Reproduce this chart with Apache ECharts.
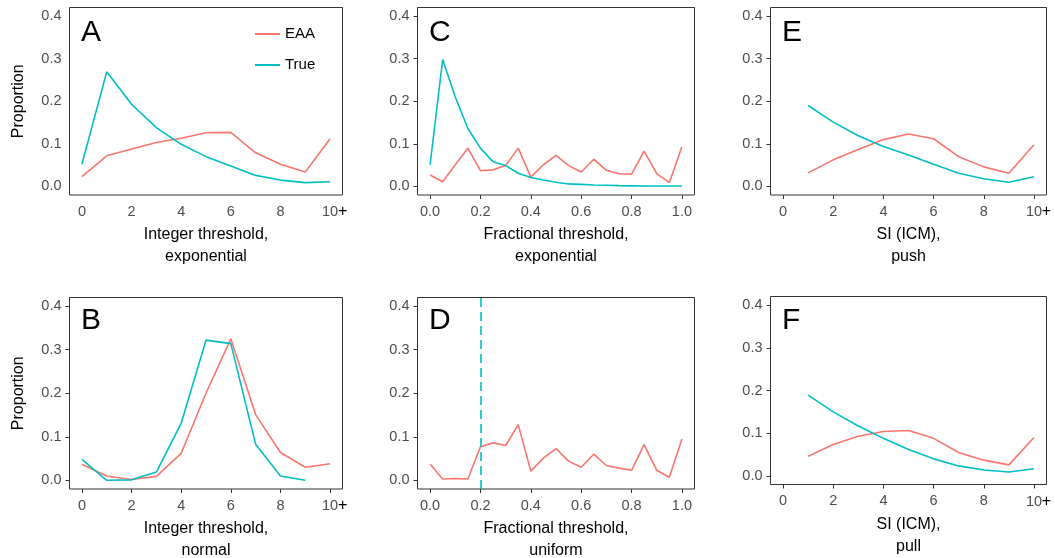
<!DOCTYPE html>
<html>
<head>
<meta charset="utf-8">
<script src="https://cdn.jsdelivr.net/npm/echarts@6/dist/echarts.min.js"></script>
<style>
html,body{margin:0;padding:0;background:#fff;}
#chart{width:1055px;height:558px;}
</style>
</head>
<body>
<div id="chart"></div>
<script>
// ---- data ----
const intX = [0, 1, 2, 3, 4, 5, 6, 7, 8, 9, 10];
const fracX = [0.00, 0.05, 0.10, 0.15, 0.20, 0.25, 0.30, 0.35, 0.40, 0.45, 0.50, 0.55, 0.60, 0.65, 0.70, 0.75, 0.80, 0.85, 0.90, 0.95, 1.00];
const siX = [1, 2, 3, 4, 5, 6, 7, 8, 9, 10];

const A_eaa  = [0.023, 0.072, 0.088, 0.103, 0.113, 0.126, 0.127, 0.079, 0.052, 0.034, 0.112];
const A_true = [0.052, 0.269, 0.193, 0.138, 0.099, 0.070, 0.048, 0.026, 0.015, 0.009, 0.011];

const B_eaa  = [0.037, 0.010, 0.002, 0.009, 0.062, 0.200, 0.325, 0.151, 0.064, 0.030, 0.038];
const B_true = [0.048, 0.000, 0.001, 0.019, 0.131, 0.322, 0.314, 0.083, 0.010, 0.000];

const C_eaa  = [0.027, 0.011, 0.051, 0.090, 0.037, 0.039, 0.049, 0.090, 0.022, 0.051, 0.073, 0.049, 0.034, 0.064, 0.038, 0.030, 0.029, 0.083, 0.030, 0.009, 0.093];
const C_true = [0.051, 0.298, 0.210, 0.136, 0.090, 0.058, 0.049, 0.031, 0.021, 0.015, 0.010, 0.006, 0.005, 0.0035, 0.003, 0.002, 0.0015, 0.001, 0.001, 0.001, 0.001];

const D_eaa  = [0.0375, 0.003, 0.004, 0.003, 0.077, 0.086, 0.080, 0.128, 0.021, 0.051, 0.073, 0.044, 0.030, 0.060, 0.034, 0.028, 0.023, 0.082, 0.023, 0.007, 0.095];
const D_trueThreshold = 0.2;

const E_eaa  = [0.032, 0.0625, 0.087, 0.110, 0.123, 0.112, 0.070, 0.046, 0.031, 0.098];
const E_true = [0.190, 0.151, 0.119, 0.094, 0.074, 0.052, 0.031, 0.018, 0.010, 0.023];

const F_eaa  = [0.046, 0.0736, 0.093, 0.104, 0.1065, 0.088, 0.055, 0.037, 0.026, 0.090];
const F_true = [0.189, 0.150, 0.117, 0.088, 0.062, 0.040, 0.0235, 0.014, 0.0094, 0.017];

const yTicks = [0, 0.1, 0.2, 0.3, 0.4];
const intTicks = [0, 2, 4, 6, 8, 10];
const fracTicks = [0, 0.2, 0.4, 0.6, 0.8, 1.0];

const panelLetters = ['A', 'B', 'C', 'D', 'E', 'F'];
const xTitles = [
  'Integer threshold,\nexponential',
  'Integer threshold,\nnormal',
  'Fractional threshold,\nexponential',
  'Fractional threshold,\nuniform',
  'SI (ICM),\npush',
  'SI (ICM),\npull'
];
const yTitle = 'Proportion';

// ---- layout ----
const RED = '#F8766D', CYAN = '#00BFC4';
const FONT = '"Liberation Sans", Arial, Helvetica, sans-serif';
const TICKFS = 14.5;
const grids = [
  {left: 69.5, top: 7.5, width: 273, height: 187.5},   // A
  {left: 69.5, top: 297.5, width: 273, height: 191.5}, // B
  {left: 417.5, top: 7.5, width: 277, height: 187.5},  // C
  {left: 417.5, top: 297.5, width: 277, height: 191.5},// D
  {left: 770.5, top: 7.5, width: 276, height: 187.5},  // E
  {left: 770.5, top: 296.5, width: 276, height: 188}   // F
];
const kinds = ['int', 'int', 'frac', 'frac', 'int', 'int'];

const pairs = (xs, ys) => ys.map((y, i) => [xs[i], y]);

const option = {
  animation: false,
  textStyle: {fontFamily: FONT},
  grid: grids.map(g => Object.assign({show: true, borderColor: '#333', borderWidth: 1, containLabel: false, outerBoundsMode: 'none'}, g)),
  legend: {
    data: ['EAA', 'True'],
    orient: 'vertical',
    left: 250,
    top: 21,
    itemWidth: 25,
    itemHeight: 2,
    icon: 'rect',
    itemGap: 15,
    selectedMode: false,
    textStyle: {fontSize: 15, color: '#000', lineHeight: 16, fontFamily: FONT}
  },
  xAxis: grids.map((g, i) => {
    const isInt = kinds[i] === 'int';
    return {
      type: 'value',
      gridIndex: i,
      min: isInt ? -0.5 : -0.05,
      max: isInt ? 10.5 : 1.05,
      splitLine: {show: false},
      axisLine: {show: false, onZero: false},
      axisTick: {show: i !== 0, length: 4, lineStyle: {color: '#333'}, customValues: isInt ? intTicks : fracTicks},
      axisLabel: {
        customValues: isInt ? intTicks : fracTicks,
        color: '#4d4d4d', fontSize: TICKFS, margin: 9, fontFamily: FONT,
        formatter: v => isInt ? (Math.abs(v - 10) < 1e-9 ? '{s|}{n|10}{p|+}' : String(v)) : v.toFixed(1),
        rich: {
          s: {width: 9},
          n: {color: '#4d4d4d', fontSize: TICKFS, fontFamily: FONT},
          p: {color: '#000', fontSize: 16, width: 9, fontFamily: FONT}
        }
      },
      name: xTitles[i],
      nameLocation: 'middle',
      nameGap: 29,
      nameTextStyle: {fontSize: 16, lineHeight: 22, color: '#000', fontFamily: FONT}
    };
  }),
  yAxis: grids.map((g, i) => ({
    type: 'value',
    gridIndex: i,
    min: -0.02,
    max: 0.42,
    splitLine: {show: false},
    axisLine: {show: false, onZero: false},
    axisTick: {show: i !== 0, length: 4, lineStyle: {color: '#333'}, customValues: yTicks},
    axisLabel: {customValues: yTicks, color: '#4d4d4d', fontSize: TICKFS, margin: 8, fontFamily: FONT,
      formatter: v => v.toFixed(1)},
    name: (i === 0 || i === 1) ? yTitle : '',
    nameLocation: 'middle',
    nameGap: 43,
    nameTextStyle: {fontSize: 16, color: '#000', fontFamily: FONT}
  })),
  graphic: grids.map((g, i) => ({
    type: 'text',
    left: [81, 81, 429, 429, 782, 782][i],
    top: [20, 308, 20, 308, 20, 308][i] - 2,
    style: {text: panelLetters[i], fontSize: 30, fill: '#000', fontFamily: FONT}
  })),
  series: []
};

function line(name, color, idx, data) {
  return {
    type: 'line', name: name, xAxisIndex: idx, yAxisIndex: idx,
    data: data, symbol: 'none', showSymbol: false,
    lineStyle: {color: color, width: 1.6}, itemStyle: {color: color}, silent: true
  };
}

option.series.push(line('EAA', RED, 0, pairs(intX, A_eaa)));
option.series.push(line('True', CYAN, 0, pairs(intX, A_true)));
option.series.push(line('EAA', RED, 1, pairs(intX, B_eaa)));
option.series.push(line('True', CYAN, 1, pairs(intX, B_true)));
option.series.push(line('EAA', RED, 2, pairs(fracX, C_eaa)));
option.series.push(line('True', CYAN, 2, pairs(fracX, C_true)));
const dSeries = line('EAA', RED, 3, pairs(fracX, D_eaa));
dSeries.markLine = {
  silent: true, symbol: 'none', label: {show: false},
  lineStyle: {color: CYAN, type: [9, 5], width: 1.6},
  data: [{xAxis: D_trueThreshold}]
};
option.series.push(dSeries);
option.series.push(line('EAA', RED, 4, pairs(siX, E_eaa)));
option.series.push(line('True', CYAN, 4, pairs(siX, E_true)));
option.series.push(line('EAA', RED, 5, pairs(siX, F_eaa)));
option.series.push(line('True', CYAN, 5, pairs(siX, F_true)));

const chart = echarts.init(document.getElementById('chart'), null, {renderer: 'canvas'});
chart.setOption(option);
</script>
</body>
</html>
